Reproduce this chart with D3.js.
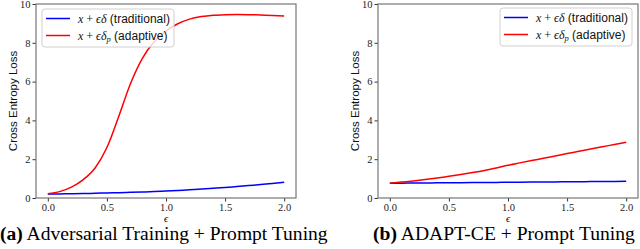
<!DOCTYPE html>
<meta charset="utf-8">
<style>
body { margin: 0; background: #fff; }
svg { display: block; }
.tick text { font-family: "Liberation Serif", serif; font-size: 10.5px; fill: #222; }
.ylab { font-family: "Liberation Sans", sans-serif; font-size: 11.5px; fill: #111; }
.leg { font-family: "Liberation Sans", sans-serif; font-size: 12px; fill: #111; }
.math { font-family: "Liberation Serif", serif; font-style: italic; }
.cap { font-family: "Liberation Serif", serif; font-size: 15px; fill: #000; }
</style>
<svg width="640" height="249"></svg>
<script src="https://d3js.org/d3.v7.min.js"></script>
<script>

// epsilon grid
var eps = [0, 0.1, 0.2, 0.3, 0.4, 0.5, 0.6, 0.7, 0.8, 0.9, 1.0,
           1.1, 1.2, 1.3, 1.4, 1.5, 1.6, 1.7, 1.8, 1.9, 2.0];

// (a) adversarial training + prompt tuning
var aTrad  = [0.20, 0.21, 0.22, 0.23, 0.245, 0.26, 0.275, 0.29, 0.31, 0.33, 0.36,
              0.39, 0.42, 0.46, 0.50, 0.54, 0.59, 0.64, 0.69, 0.75, 0.81];
var aAdapt = [0.22, 0.33, 0.56, 0.95, 1.55, 2.60, 4.20, 5.90, 7.20, 8.05, 8.60,
              8.98, 9.22, 9.35, 9.42, 9.45, 9.46, 9.45, 9.43, 9.41, 9.38];

// (b) ADAPT-CE + prompt tuning
var bTrad  = [0.76, 0.765, 0.77, 0.775, 0.78, 0.785, 0.79, 0.795, 0.80, 0.805, 0.81,
              0.815, 0.82, 0.825, 0.83, 0.835, 0.84, 0.845, 0.85, 0.855, 0.86];
var bAdapt = [0.76, 0.82, 0.88, 0.95, 1.03, 1.12, 1.21, 1.31, 1.42, 1.55, 1.69,
              1.81, 1.93, 2.05, 2.17, 2.29, 2.41, 2.53, 2.64, 2.76, 2.87];

var xTicks = [0, 0.5, 1.0, 1.5, 2.0];
var yTicks = [0, 2, 4, 6, 8, 10];
var captions = [["(a)", " Adversarial Training + Prompt Tuning"], ["(b)", " ADAPT-CE + Prompt Tuning"]];

var svg = d3.select("svg");

var panels = [
  {x0: 36, x1: 296, trad: aTrad, adapt: aAdapt, legX: 42, legY: 9, cap: captions[0], capX: 0, capW: 328},
  {x0: 378, x1: 638, trad: bTrad, adapt: bAdapt, legX: 500, legY: 8, cap: captions[1], capX: 373, capW: 262}
];
var yTop = 4, yBot = 198;

panels.forEach(function(p) {
  var x = d3.scaleLinear().domain([-0.1, 2.1]).range([p.x0, p.x1]);
  var y = d3.scaleLinear().domain([0, 10]).range([yBot, yTop]);
  var g = svg.append("g");

  g.append("g")
      .attr("transform", "translate(0," + yBot + ")")
      .call(d3.axisBottom(x).tickValues(xTicks).tickFormat(d3.format(".1f")).tickSize(3.5).tickPadding(2.5))
      .call(function(a) { a.select(".domain").remove(); a.selectAll("line").attr("stroke", "#333"); });

  g.append("g")
      .attr("transform", "translate(" + p.x0 + ",0)")
      .call(d3.axisLeft(y).tickValues(yTicks).tickFormat(d3.format("d")).tickSize(3.5).tickPadding(2))
      .call(function(a) { a.select(".domain").remove(); a.selectAll("line").attr("stroke", "#333"); });

  var line = d3.line()
      .x(function(d, i) { return x(eps[i]); })
      .y(function(d) { return y(d); })
      .curve(d3.curveMonotoneX);

  g.append("path").datum(p.trad).attr("d", line)
      .attr("fill", "none").attr("stroke", "blue").attr("stroke-width", 1.5);
  g.append("path").datum(p.adapt).attr("d", line)
      .attr("fill", "none").attr("stroke", "red").attr("stroke-width", 1.5);

  // frame
  g.append("rect")
      .attr("x", p.x0).attr("y", yTop)
      .attr("width", p.x1 - p.x0).attr("height", yBot - yTop)
      .attr("fill", "none").attr("stroke", "#777").attr("stroke-width", 1.2);

  // y label
  g.append("text").attr("class", "ylab")
      .attr("transform", "translate(" + (p.x0 - 19) + "," + ((yTop + yBot) / 2) + ") rotate(-90)")
      .attr("text-anchor", "middle")
      .text("Cross Entropy Loss");

  // x label
  g.append("text").attr("class", "math")
      .attr("x", (p.x0 + p.x1) / 2).attr("y", 221.5)
      .attr("text-anchor", "middle").attr("font-size", 10.5)
      .text("\u03F5");

  // legend
  var leg = g.append("g").attr("transform", "translate(" + p.legX + "," + p.legY + ")");
  leg.append("rect").attr("width", 132).attr("height", 38).attr("rx", 3)
      .attr("fill", "#fff").attr("fill-opacity", 0.8)
      .attr("stroke", "#d0d0d0").attr("stroke-width", 1);
  [["blue", false, "(traditional)"], ["red", true, "(adaptive)"]].forEach(function(e, i) {
    var yy = 9.5 + i * 17;
    leg.append("line").attr("x1", 4).attr("x2", 28).attr("y1", yy).attr("y2", yy)
        .attr("stroke", e[0]).attr("stroke-width", 1.5);
    var t = leg.append("text").attr("class", "leg").attr("x", 36).attr("y", yy + 4);
    t.append("tspan").attr("class", "math").text("x");
    t.append("tspan").attr("font-family", "Liberation Serif").text(" + ");
    t.append("tspan").attr("class", "math").text("\u03F5\u03B4");
    if (e[1]) {
      t.append("tspan").attr("class", "math").attr("font-size", 8.5).attr("dy", 2.5).text("p");
      t.append("tspan").attr("dy", -2.5).text(" " + e[2]);
    } else {
      t.append("tspan").text(" " + e[2]);
    }
  });

  // caption
  var c = svg.append("text").attr("class", "cap").attr("x", p.capX).attr("y", 240);
  c.append("tspan").attr("font-weight", "bold").text(p.cap[0]);
  c.append("tspan").text(p.cap[1]);
  var w = c.node().getComputedTextLength();
  c.style("font-size", (15 * p.capW / w) + "px");
});

</script>
